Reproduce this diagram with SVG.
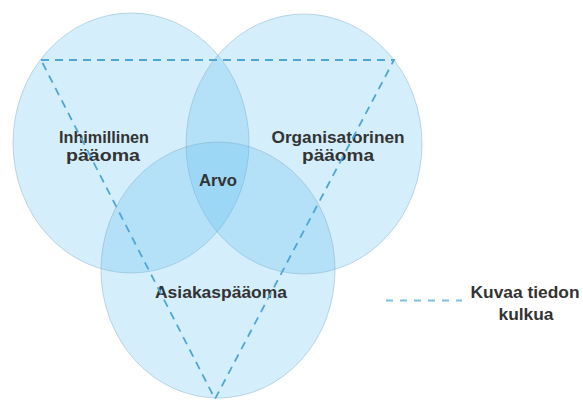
<svg xmlns="http://www.w3.org/2000/svg" width="583" height="400" viewBox="0 0 583 400">
  <style>
    .set { fill: #57bdef; fill-opacity: 0.26; stroke: #7ea9c2; stroke-opacity: 0.45; stroke-width: 1; }
    .label { font-family: "Liberation Sans", Arial, sans-serif; font-weight: bold; font-size: 16px; fill: #333333; text-anchor: middle; }
    .flow { fill: none; stroke: #4da6d6; stroke-width: 1.8; stroke-dasharray: 8 6; }
    .key { stroke: #7cc0e0; stroke-width: 2; stroke-dasharray: 7 7; }
  </style>
  <rect width="583" height="400" fill="#ffffff"/>

  <!-- three overlapping capital sets -->
  <g id="inhimillinen">
    <ellipse class="set" cx="131" cy="143" rx="118" ry="130"/>
    <text class="label" x="104" y="143" textLength="90" lengthAdjust="spacingAndGlyphs">Inhimillinen</text>
    <text class="label" x="103" y="161" textLength="74" lengthAdjust="spacingAndGlyphs">pääoma</text>
  </g>
  <g id="organisatorinen">
    <ellipse class="set" cx="304" cy="144" rx="118" ry="130"/>
    <text class="label" x="338" y="143" textLength="133" lengthAdjust="spacingAndGlyphs">Organisatorinen</text>
    <text class="label" x="338" y="161" textLength="72" lengthAdjust="spacingAndGlyphs">pääoma</text>
  </g>
  <g id="asiakas">
    <ellipse class="set" cx="218" cy="270" rx="117" ry="128"/>
    <text class="label" x="221" y="298" textLength="132" lengthAdjust="spacingAndGlyphs">Asiakaspääoma</text>
  </g>
  <g id="arvo">
    <text class="label" x="218" y="186" textLength="38" lengthAdjust="spacingAndGlyphs">Arvo</text>
  </g>

  <!-- information flow between the sets -->
  <g id="connectors">
    <polygon class="flow" points="41,60 394,60 215,399"/>
  </g>

  <!-- legend -->
  <g id="legend">
    <line class="key" x1="386" y1="300.5" x2="462" y2="300.5"/>
    <text class="label" x="525" y="298" textLength="109" lengthAdjust="spacingAndGlyphs">Kuvaa tiedon</text>
    <text class="label" x="526" y="320" textLength="55" lengthAdjust="spacingAndGlyphs">kulkua</text>
  </g>
</svg>
